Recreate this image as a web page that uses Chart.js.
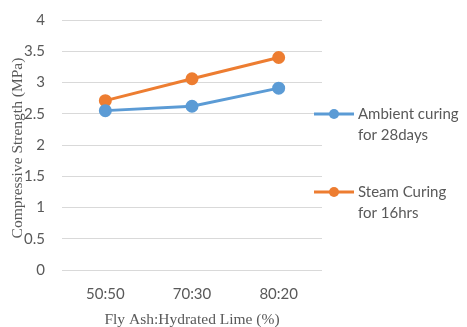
<!DOCTYPE html>
<html>
<head>
<meta charset="utf-8">
<script src="https://cdn.jsdelivr.net/npm/chart.js@4"></script>
<style>
  html, body { margin: 0; padding: 0; background: #fff; }
  #wrap { width: 467px; height: 327px; position: relative; }
</style>
</head>
<body>
<div id="wrap"><canvas id="c"></canvas></div>
<script>
// Mix ratios and compressive strengths (MPa)
const categories = ['50:50', '70:30', '80:20'];
const ambientCuring = [2.55, 2.62, 2.91];
const steamCuring = [2.71, 3.06, 3.40];
const seriesNames = [['Ambient curing', 'for 28days'], ['Steam Curing', 'for 16hrs']];
const yTitle = 'Compressive Strength (MPa)';
const xTitle = 'Fly Ash:Hydrated Lime (%)';

const BLUE = '#5B9BD5';
const ORANGE = '#ED7D31';
const TEXT = '#595959';
const SANS = 'Lato, "Open Sans", sans-serif';
const SERIF = '"Liberation Serif", "DejaVu Serif", serif';

// Axis titles and a right-hand legend with two-line labels
const decorations = {
  id: 'decorations',
  afterDraw(chart) {
    const ctx = chart.ctx;
    const area = chart.chartArea;
    ctx.save();
    ctx.fillStyle = TEXT;
    ctx.font = '15.5px ' + SERIF;
    ctx.textAlign = 'center';
    ctx.textBaseline = 'middle';
    ctx.fillText(xTitle, (area.left + area.right) / 2, 320);
    ctx.save();
    ctx.translate(18, 148);
    ctx.rotate(-Math.PI / 2);
    ctx.fillText(yTitle, 0, 0);
    ctx.restore();

    const rows = [114, 192];
    chart.data.datasets.forEach((ds, i) => {
      const y = rows[i];
      ctx.strokeStyle = ds.borderColor;
      ctx.lineWidth = 3;
      ctx.beginPath();
      ctx.moveTo(314, y);
      ctx.lineTo(354, y);
      ctx.stroke();
      ctx.fillStyle = ds.borderColor;
      ctx.beginPath();
      ctx.arc(334, y, 5, 0, Math.PI * 2);
      ctx.fill();
      ctx.fillStyle = TEXT;
      ctx.font = '15px ' + SANS;
      ctx.textAlign = 'left';
      ctx.textBaseline = 'middle';
      seriesNames[i].forEach((line, j) => ctx.fillText(line, 358, y + j * 21));
    });
    ctx.restore();
  }
};

new Chart(document.getElementById('c'), {
  type: 'line',
  data: {
    labels: categories,
    datasets: [
      { label: seriesNames[0].join(' '), data: ambientCuring, borderColor: BLUE, backgroundColor: BLUE,
        borderWidth: 3, pointRadius: 5, pointHoverRadius: 5, tension: 0 },
      { label: seriesNames[1].join(' '), data: steamCuring, borderColor: ORANGE, backgroundColor: ORANGE,
        borderWidth: 3, pointRadius: 5, pointHoverRadius: 5, tension: 0 }
    ]
  },
  options: {
    responsive: true,
    maintainAspectRatio: false,
    animation: false,
    devicePixelRatio: 1,
    layout: { padding: { top: 20, right: 145, left: 0, bottom: 0 } },
    plugins: { legend: { display: false }, tooltip: { enabled: false } },
    scales: {
      x: {
        offset: true,
        grid: { display: false, drawTicks: false },
        border: { display: false },
        ticks: { color: TEXT, font: { family: SANS, size: 15 }, padding: 15 },
        afterFit(s) { s.height = 57; }
      },
      y: {
        min: 0, max: 4,
        ticks: { stepSize: 0.5, color: TEXT, font: { family: SANS, size: 15 }, padding: 17,
                 callback: v => String(v) },
        grid: { color: '#d9d9d9', lineWidth: 1, drawTicks: false },
        border: { display: false },
        afterFit(s) { s.width = 62; s.paddingTop = 0; s.paddingBottom = 0; }
      }
    }
  },
  plugins: [decorations]
});
</script>
</body>
</html>
